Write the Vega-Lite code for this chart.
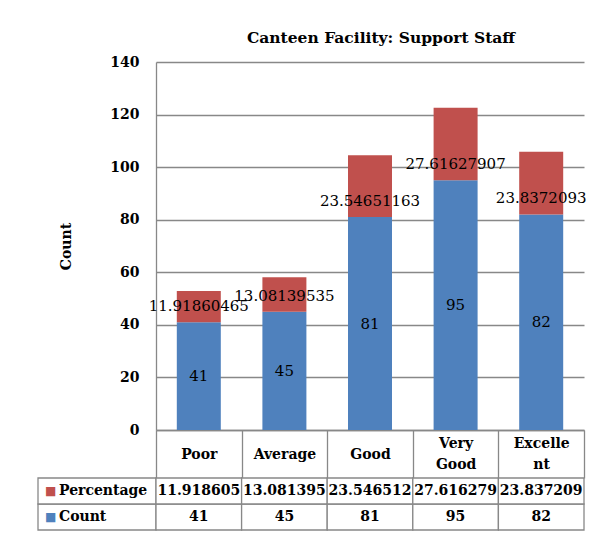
{
  "$schema": "https://vega.github.io/schema/vega-lite/v6.json",
  "padding": {"left": 37, "top": 30, "right": 5, "bottom": 5},
  "background": "white",
  "bounds": "flush",
  "columns": 2,
  "align": "each",
  "spacing": {"row": 48, "column": 0},
  "resolve": {"scale": {"x": "independent", "y": "independent"}},
  "datasets": {
    "d": [
      {"cat": "Poor", "series": "Count", "value": 41},
      {"cat": "Poor", "series": "Percentage", "value": 11.91860465},
      {"cat": "Average", "series": "Count", "value": 45},
      {"cat": "Average", "series": "Percentage", "value": 13.08139535},
      {"cat": "Good", "series": "Count", "value": 81},
      {"cat": "Good", "series": "Percentage", "value": 23.54651163},
      {"cat": "Very Good", "series": "Count", "value": 95},
      {"cat": "Very Good", "series": "Percentage", "value": 27.61627907},
      {"cat": "Excellent", "series": "Count", "value": 82},
      {"cat": "Excellent", "series": "Percentage", "value": 23.8372093}
    ]
  },
  "concat": [
    {
      "width": 118,
      "height": 368,
      "data": {"values": [{}]},
      "mark": {"type": "text", "text": ""},
      "encoding": {}
    },
    {
      "width": 428,
      "height": 368,
      "title": {"text": "Canteen Facility: Support Staff", "dx": 11, "offset": 9},
      "data": {"name": "d"},
      "transform": [
        {"stack": "value", "groupby": ["cat"], "sort": [{"field": "series", "order": "ascending"}], "as": ["v0", "v1"]}
      ],
      "encoding": {
        "x": {
          "field": "cat",
          "type": "nominal",
          "sort": ["Poor", "Average", "Good", "Very Good", "Excellent"],
          "scale": {"paddingInner": 0, "paddingOuter": 0},
          "axis": {
            "title": null,
            "labelAngle": 0,
            "tickBand": "extent",
            "tickSize": 48,
            "tickColor": "#888888",
            "tickWidth": 1.3,
            "domainColor": "#888888",
            "domainWidth": 1.3,
            "labelPadding": {"condition": {"test": "datum.value == 'Very Good' || datum.value == 'Excellent'", "value": -34.5}, "value": -24},
            "labelBaseline": "middle",
            "labelLineHeight": 21,
            "labelExpr": "datum.value == 'Very Good' ? ['Very', 'Good'] : datum.value == 'Excellent' ? ['Excelle', 'nt'] : datum.label"
          }
        }
      },
      "layer": [
        {
          "mark": {"type": "bar", "width": {"band": 0.514}},
          "encoding": {
            "y": {
              "field": "v1",
              "type": "quantitative",
              "title": "Count",
              "scale": {"domain": [0, 140], "nice": false},
              "axis": {
                "values": [0, 20, 40, 60, 80, 100, 120, 140],
                "ticks": false,
                "labelPadding": 17,
                "titlePadding": 36,
                "grid": true,
                "gridColor": "#888888",
                "gridWidth": 1.3,
                "domainColor": "#888888",
                "domainWidth": 1.3
              }
            },
            "y2": {"field": "v0"},
            "color": {
              "field": "series",
              "type": "nominal",
              "scale": {"domain": ["Percentage", "Count"], "range": ["#C0504D", "#4F81BD"]},
              "legend": null
            }
          }
        },
        {
          "transform": [{"filter": "datum.series == 'Percentage'"}],
          "mark": {"type": "text", "dy": -16, "font": "DejaVu Serif", "fontSize": 15, "color": "black"},
          "encoding": {
            "y": {"field": "v0", "type": "quantitative", "title": "Count"},
            "text": {"field": "value", "type": "quantitative", "format": ".10~g"}
          }
        },
        {
          "transform": [
            {"filter": "datum.series == 'Count'"},
            {"fold": ["v0", "v1"], "as": ["k", "pos"]},
            {"aggregate": [{"op": "mean", "field": "pos", "as": "mid"}], "groupby": ["cat", "value"]}
          ],
          "mark": {"type": "text", "font": "DejaVu Serif", "fontSize": 15, "color": "black"},
          "encoding": {
            "y": {"field": "mid", "type": "quantitative", "title": "Count"},
            "text": {"field": "value", "type": "quantitative"}
          }
        }
      ]
    },
    {
      "width": 118,
      "height": 52,
      "data": {"name": "d"},
      "transform": [{"filter": "datum.cat == 'Poor'"}],
      "encoding": {
        "y": {
          "field": "series",
          "type": "nominal",
          "sort": ["Percentage", "Count"],
          "scale": {"paddingInner": 0, "paddingOuter": 0},
          "axis": null
        }
      },
      "layer": [
        {"mark": {"type": "rect", "fill": "white", "stroke": "#888888", "strokeWidth": 1.3}},
        {
          "mark": {"type": "text", "text": "■", "align": "left", "dx": -52, "font": "DejaVu Sans", "fontSize": 12},
          "encoding": {
            "color": {
              "field": "series",
              "type": "nominal",
              "scale": {"domain": ["Percentage", "Count"], "range": ["#C0504D", "#4F81BD"]},
              "legend": null
            }
          }
        },
        {
          "mark": {"type": "text", "align": "left", "dx": -38, "font": "DejaVu Serif", "fontWeight": "bold", "fontSize": 14, "color": "black"},
          "encoding": {"text": {"field": "series", "type": "nominal"}}
        }
      ]
    },
    {
      "width": 428,
      "height": 52,
      "data": {"name": "d"},
      "encoding": {
        "x": {
          "field": "cat",
          "type": "nominal",
          "sort": ["Poor", "Average", "Good", "Very Good", "Excellent"],
          "scale": {"paddingInner": 0, "paddingOuter": 0},
          "axis": null
        },
        "y": {
          "field": "series",
          "type": "nominal",
          "sort": ["Percentage", "Count"],
          "scale": {"paddingInner": 0, "paddingOuter": 0},
          "axis": null
        }
      },
      "layer": [
        {"mark": {"type": "rect", "fill": "white", "stroke": "#888888", "strokeWidth": 1.3}},
        {
          "mark": {"type": "text", "font": "DejaVu Serif", "fontWeight": "bold", "fontSize": 14, "color": "black"},
          "encoding": {"text": {"field": "value", "type": "quantitative", "format": ".6~f"}}
        }
      ]
    }
  ],
  "config": {
    "view": {"stroke": null},
    "font": "DejaVu Serif",
    "title": {"font": "DejaVu Serif", "fontSize": 15.5, "fontWeight": "bold", "color": "black", "anchor": "middle"},
    "axis": {
      "labelFont": "DejaVu Serif",
      "labelFontSize": 14,
      "labelFontWeight": "bold",
      "labelColor": "black",
      "titleFont": "DejaVu Serif",
      "titleFontSize": 14,
      "titleFontWeight": "bold",
      "titleColor": "black"
    }
  }
}
